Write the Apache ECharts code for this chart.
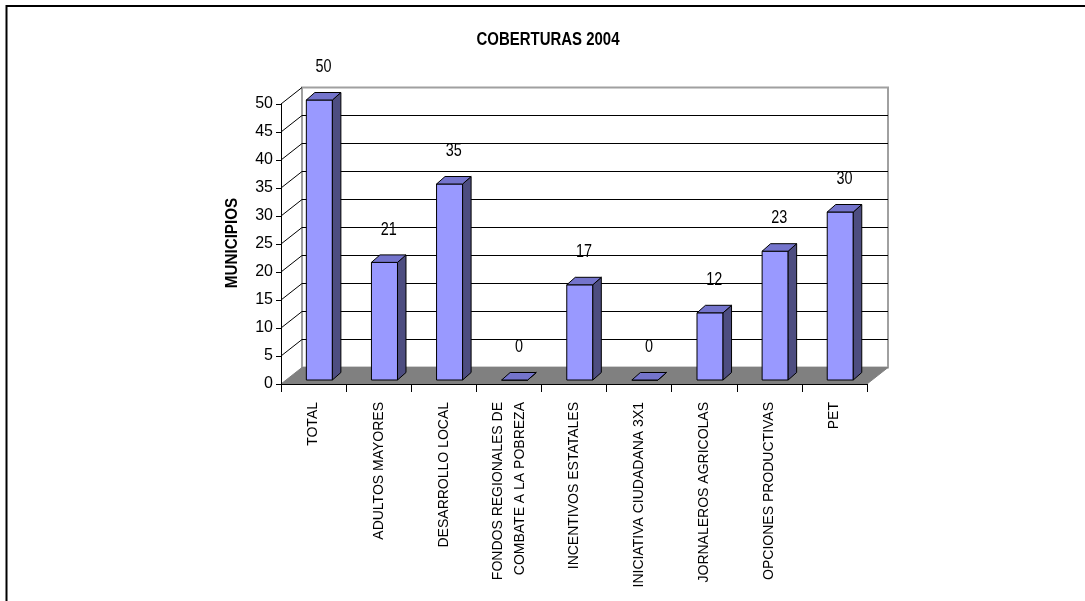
<!DOCTYPE html>
<html><head><meta charset="utf-8">
<script src="https://cdn.jsdelivr.net/npm/echarts@6/dist/echarts.min.js"></script>
<style>html,body{margin:0;padding:0;background:#fff}#c{width:1085px;height:601px}</style>
</head><body><div id="c"></div>
<script>
const categories = ['TOTAL', 'ADULTOS MAYORES', 'DESARROLLO LOCAL', 'FONDOS REGIONALES DE\nCOMBATE A LA POBREZA', 'INCENTIVOS ESTATALES', 'INICIATIVA CIUDADANA 3X1', 'JORNALEROS AGRICOLAS', 'OPCIONES PRODUCTIVAS', 'PET'];
const values = [50, 21, 35, 0, 17, 0, 12, 23, 30];
const yTicks = [5, 10, 15, 20, 25, 30, 35, 40, 45, 50];
const titleText = 'COBERTURAS 2004';
const yAxisTitle = 'MUNICIPIOS';

// 3D styling constants
const WALL_DX = 21, WALL_DY = 16.5;
const BAR_OFF_X = 5.8, BAR_OFF_Y = 4;
const BAR_DX = 8.5, BAR_DY = 7.5;
const BAR_W = 0.4;
const SANS = '"Liberation Sans", Arial, sans-serif';

const chart = echarts.init(document.getElementById('c'), null, {renderer: 'canvas'});

const option = {
  backgroundColor: '#ffffff',
  animation: false,
  graphic: [
    {type: 'rect', shape: {x: 6.5, y: 6, width: 1200, height: 700}, style: {fill: 'none', stroke: '#000', lineWidth: 2}, z: 0},
    {type: 'text', x: 548, y: 40, scaleX: 0.88, scaleY: 1.05, style: {text: titleText, font: 'bold 17px ' + SANS, fill: '#000', align: 'center', verticalAlign: 'middle'}},
    {type: 'text', x: 232, y: 243, rotation: Math.PI / 2, scaleX: 0.95, scaleY: 1.05, style: {text: yAxisTitle, font: 'bold 16px ' + SANS, fill: '#000', align: 'center', verticalAlign: 'middle'}}
  ],
  grid: {left: 281, right: 218, top: 104, bottom: 217, containLabel: false},
  xAxis: {
    type: 'category',
    data: categories,
    axisLine: {show: true, lineStyle: {color: '#000', width: 1}},
    axisTick: {show: true, length: 8, lineStyle: {color: '#000'}},
    axisLabel: {rotate: 90, interval: 0, margin: 18, fontFamily: SANS, fontSize: 14, color: '#000', lineHeight: 22},
    splitLine: {show: false},
    z: 10
  },
  yAxis: {
    type: 'value', min: 0, max: 50, interval: 5,
    axisLine: {show: true, lineStyle: {color: '#000', width: 1}},
    axisTick: {show: true, length: 5, lineStyle: {color: '#000'}},
    axisLabel: {margin: 8, fontFamily: SANS, fontSize: 16, color: '#000'},
    splitLine: {show: false},
    z: 10
  },
  series: [
    {
      // walls + floor
      type: 'custom', z: 1, silent: true,
      data: [[0, 0]],
      renderItem: function (params, api) {
        const cs = params.coordSys;
        const x0 = cs.x, x1 = cs.x + cs.width, yb = cs.y + cs.height;
        const yTop = api.coord([0, 50])[1];
        return {
          type: 'group',
          children: [
            {type: 'polygon', shape: {points: [[x0 + WALL_DX, yTop - WALL_DY], [x1 + WALL_DX, yTop - WALL_DY], [x1 + WALL_DX, yb - WALL_DY], [x0 + WALL_DX, yb - WALL_DY]]},
              style: {fill: '#ffffff', stroke: '#a0a0a0', lineWidth: 2}},
            {type: 'polygon', shape: {points: [[x0, yb], [x1, yb], [x1 + WALL_DX, yb - WALL_DY], [x0 + WALL_DX, yb - WALL_DY]]},
              style: {fill: '#808080', stroke: '#808080', lineWidth: 1}, z2: 5}
          ]
        };
      }
    },
    {
      // gridlines on back and side walls
      type: 'custom', z: 2, silent: true,
      data: yTicks.map(t => [0, t]),
      renderItem: function (params, api) {
        const cs = params.coordSys;
        const x0 = cs.x, x1 = cs.x + cs.width;
        const y = api.coord([0, api.value(1)])[1];
        const top = api.value(1) === 50;
        const children = [
          {type: 'line', shape: {x1: x0, y1: y, x2: x0 + WALL_DX, y2: y - WALL_DY}, style: {stroke: '#000', lineWidth: 1}}
        ];
        if (!top) {
          children.push({type: 'line', shape: {x1: x0 + WALL_DX, y1: y - WALL_DY, x2: x1 + WALL_DX, y2: y - WALL_DY}, style: {stroke: '#000', lineWidth: 1}});
        }
        return {type: 'group', children: children};
      }
    },
    {
      // 3D bars
      type: 'custom', z: 5,
      data: values.map((v, i) => [i, v]),
      renderItem: function (params, api) {
        const i = api.value(0), v = api.value(1);
        const p0 = api.coord([i, 0]);
        const p1 = api.coord([i, v]);
        const cw = api.size([1, 0])[0];
        const w = cw * BAR_W;
        const xa = p0[0] - w / 2 + BAR_OFF_X, xb = xa + w;
        const yb = p0[1] - BAR_OFF_Y, yt = p1[1] - BAR_OFF_Y;
        const ls = {stroke: '#000', lineWidth: 1, lineJoin: 'round'};
        return {
          type: 'group',
          children: [
            {type: 'polygon', shape: {points: [[xa, yb], [xb, yb], [xb, yt], [xa, yt]]}, style: Object.assign({fill: '#9999ff'}, ls)},
            {type: 'polygon', shape: {points: [[xb, yb], [xb + BAR_DX, yb - BAR_DY], [xb + BAR_DX, yt - BAR_DY], [xb, yt]]}, style: Object.assign({fill: '#4d4d80'}, ls)},
            {type: 'polygon', shape: {points: [[xa, yt], [xb, yt], [xb + BAR_DX, yt - BAR_DY], [xa + BAR_DX, yt - BAR_DY]]}, style: Object.assign({fill: '#7474cc'}, ls)},
            {type: 'text', x: p0[0] + 10, y: yt - 33, scaleX: 0.9, scaleY: 1.2, style: {text: String(v), font: '16px ' + SANS, fill: '#000', align: 'center', verticalAlign: 'middle'}}
          ]
        };
      }
    }
  ]
};
chart.setOption(option);
</script>
</body></html>
